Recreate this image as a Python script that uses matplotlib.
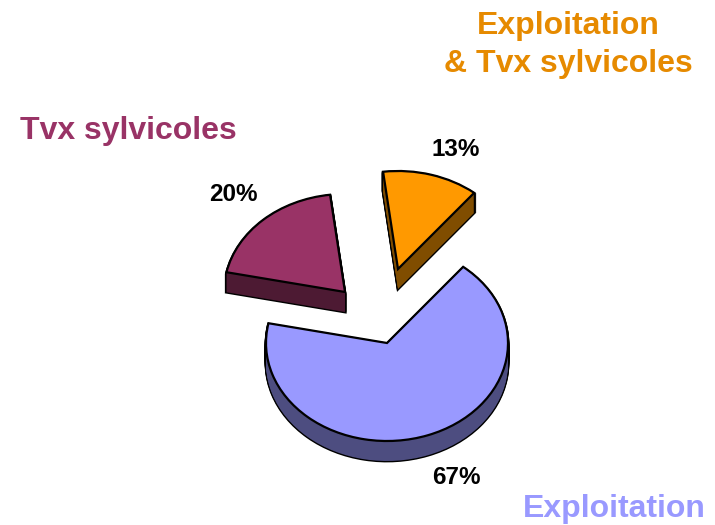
import matplotlib
matplotlib.use('Agg')
import matplotlib.pyplot as plt

plt.rcParams['font.family'] = ['Liberation Sans', 'DejaVu Sans']

# === data ===
categories = ['Exploitation', 'Tvx sylvicoles', 'Exploitation\n& Tvx sylvicoles']
shares = [67.4, 19.8, 12.8]  # measured off the slices
pct_labels = ['67%', '20%', '13%']

# === style ===
top_colors = ['#9999FF', '#993366', '#FF9900']
side_colors = ['#4D4D80', '#4D1A33', '#804D00']
title_colors = ['#9999FF', '#993366', '#E68A00']
# slice apex in pixels, each slice is pulled out by its own amount
centers_px = [(387, 343), (345, 292), (398, 269)]
pct_pos = [(456, 478), (233, 194), (456, 150)]
title_pos = [(614, 509), (128, 131), (568, 45)]
W, H = 715, 525
RX, RY = 121, 98
DEPTH = 20
k = RY / RX  # one y data unit is k pixels, this gives the tilted ellipse


def to_data(px, py):
    return px, (H - py) / k


fig = plt.figure(figsize=(W / 100, H / 100), dpi=100)
ax = fig.add_axes([0, 0, 1, 1])


def draw_pie(offset, colors, edge, lw, z):
    wedges, _ = ax.pie(shares, colors=colors, radius=RX, startangle=51, counterclock=False,
                       wedgeprops={'edgecolor': edge, 'linewidth': lw})
    for w, (cx, cy) in zip(wedges, centers_px):
        w.set_center(to_data(cx, cy + offset))
        w.set_zorder(z)
    return wedges


# 立体侧面: outlined layers first, then the same layers without edge on top
for d in range(DEPTH, 0, -1):
    draw_pie(d, side_colors, 'black', 2.0, 1)
for d in range(DEPTH, 0, -1):
    draw_pie(d, side_colors, 'none', 0, 2)

draw_pie(0, top_colors, 'black', 1.6, 3)

ax.set_aspect('auto')
ax.set_xlim(0, W)
ax.set_ylim(0, H / k)
ax.axis('off')

for s, (x, y) in zip(pct_labels, pct_pos):
    fig.text(x / W, 1 - y / H, s, ha='center', va='center', fontsize=17.5, fontweight='bold', color='black')

for name, c, (x, y) in zip(categories, title_colors, title_pos):
    fig.text(x / W, 1 - y / H, name, ha='center', va='center', fontsize=23, fontweight='bold', color=c,
             linespacing=1.36)

fig.savefig('out.png', dpi=100)
